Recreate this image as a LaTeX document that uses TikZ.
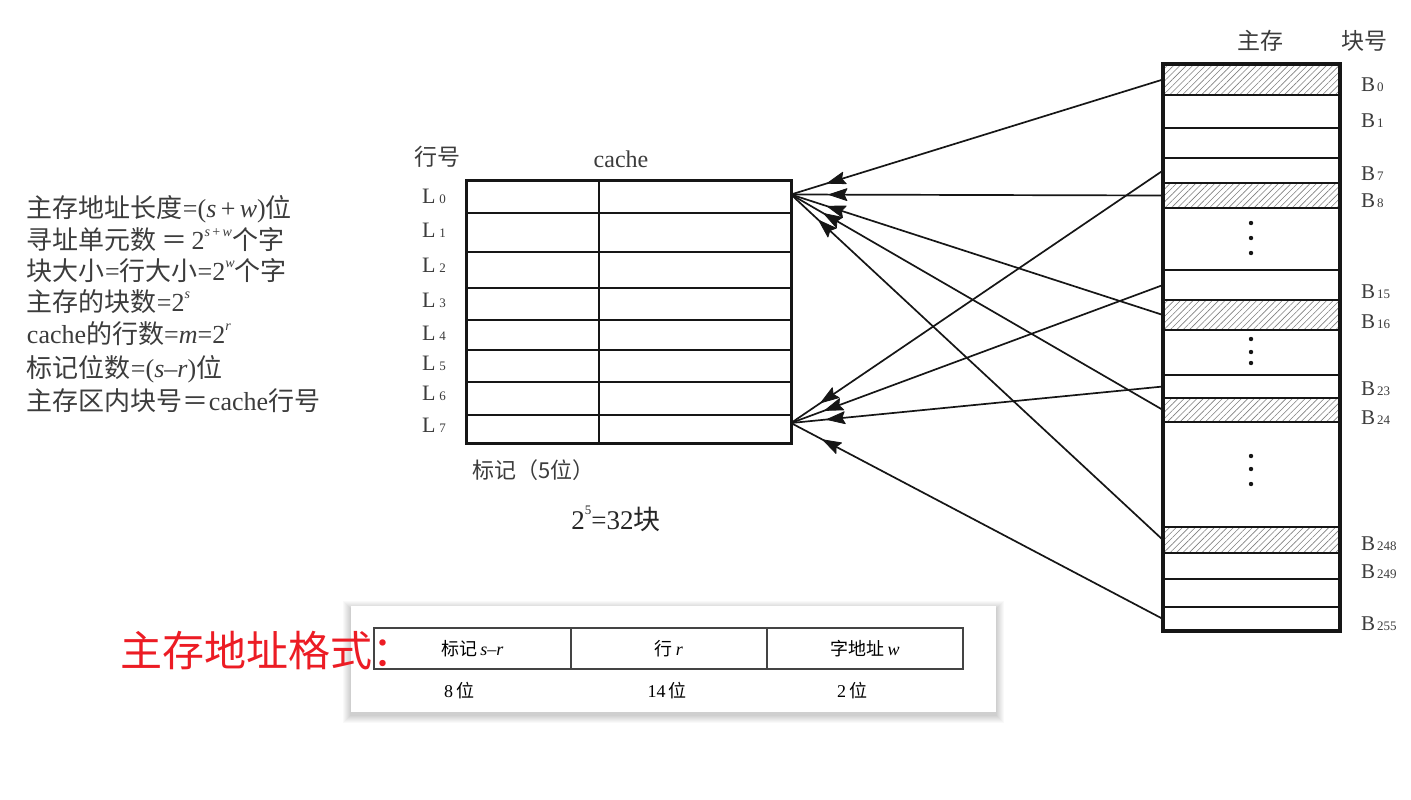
\documentclass[tikz,border=0pt]{standalone}
\usepackage{fontspec}
\setmainfont{Liberation Serif}
\newfontfamily\cjk{Noto Sans CJK SC}
\usetikzlibrary{arrows.meta,patterns.meta,calc}
\newcommand\zhs[1]{{\cjk #1}}
\newcommand\supx[1]{\raisebox{0.5em}{\fontsize{14}{14}\selectfont #1}}
\newcommand\blab[1]{B\hspace{2pt}{\fontsize{13}{13}\selectfont #1}}
\newcommand\llab[1]{L\hspace{4pt}{\fontsize{13}{13}\selectfont #1}}
\definecolor{ink}{HTML}{161616}
\definecolor{txtc}{HTML}{3C3C3C}
\definecolor{cellc}{HTML}{444444}
\definecolor{redt}{HTML}{EC1C24}
\begin{document}
\begin{tikzpicture}[x=1pt,y=-1pt,
  txt/.style={text=txtc, inner sep=0pt, outer sep=0pt},
  crow/.style={draw=ink, line width=2.2pt, minimum width=325pt, anchor=north west, inner sep=0pt, outer sep=0pt},
  mblk/.style={draw=ink, line width=2.4pt, minimum width=177pt, anchor=north west, inner sep=0pt, outer sep=0pt},
  hatch/.style={pattern={Lines[angle=45,distance=4.5pt,line width=0.6pt]}, pattern color=gray},
  conn/.style={draw=ink, line width=1.7pt},
  headfill/.style={fill=ink, draw=ink, line width=0.8pt, line join=round},
  fcell/.style={draw=cellc, line width=1.3pt, minimum height=41pt, inner sep=0pt, outer sep=0pt, anchor=north west, text=black, font=\fontsize{18}{18}\selectfont},
  leftline/.style={txt, anchor=base west, font=\fontsize{26}{26}\selectfont}
]
\useasboundingbox (0,0) rectangle (1411,800);
\fill[white] (0,0) rectangle (1411,800);

% ---------- left text ----------
\node[leftline] (t1) at (27,217) {\zhs{主存地址长度}=(\textit{s}\,+\,\textit{w})\zhs{位}};
\node[leftline] (t2) at (27,249) {\zhs{寻址单元数}\,\zhs{＝}\,2\supx{\textit{s}\,+\,\textit{w}}\zhs{个字}};
\node[leftline] (t3) at (27,280) {\zhs{块大小}=\zhs{行大小}=2\supx{\textit{w}}\zhs{个字}};
\node[leftline] (t4) at (27,311) {\zhs{主存的块数}=2\supx{\textit{s}}};
\node[leftline] (t5) at (27,343) {cache\zhs{的行数}=\textit{m}=2\supx{\textit{r}}};
\node[leftline] (t6) at (27,377) {\zhs{标记位数}=(\textit{s}–\textit{r})\zhs{位}};
\node[leftline] (t7) at (27,410) {\zhs{主存区内块号＝}cache\zhs{行号}};

% ---------- cache ----------
\node[txt, anchor=base, font=\cjk\fontsize{23}{23}\selectfont] (hh) at (437,165) {行号};
\node[txt, anchor=base, font=\fontsize{24}{24}\selectfont] (hc) at (621,167) {cache};
\foreach \i/\ya/\hh in {0/180/33,1/213/39,2/252/36,3/288/32,4/320/30,5/350/32,6/382/33,7/415/28}
  \node[crow, minimum height=\hh pt] (r\i) at (466,\ya) {};
\draw[ink, line width=2.4pt] (599,180) -- (599,443);
\draw[ink, line width=3pt] (r0.north west) rectangle (r7.south east);
\foreach \i/\y in {0/203,1/237,2/272,3/307,4/340,5/370,6/400,7/432}
  \node[txt, anchor=base west, font=\fontsize{22}{22}\selectfont] (l\i) at (422,\y) {\llab{\i}};
\node[txt, anchor=base west, font=\cjk\fontsize{22}{22}\selectfont] (tag) at (472,478) {标记（5位）};
\node[txt, anchor=base, text=black!85, font=\fontsize{27}{27}\selectfont] (n32) at (616,529) {2\raisebox{0.55em}{\fontsize{13}{13}\selectfont 5}=32\zhs{块}};
\coordinate (p0) at ([yshift=2pt]r0.east);
\coordinate (p7) at ([yshift=6pt]r7.east);

% ---------- main memory ----------
\node[txt, anchor=base, font=\cjk\fontsize{23}{23}\selectfont] (hm) at (1260,50) {主存};
\node[txt, anchor=base, font=\cjk\fontsize{23}{23}\selectfont] (hb) at (1364,50) {块号};
\foreach \nm/\ya/\yb in {B0/64/95, B8/183/208, B16/300/330, B24/398/422, B248/527/553}
  \node[mblk, hatch, minimum height={(\yb-\ya)*1pt}] (\nm) at (1163,\ya) {};
\foreach \nm/\ya/\yb in {B1/95/128, X1/128/158, B7/158/183, D1/208/270, B15/270/300, D2/330/375, B23/375/398, D3/422/527, B249/553/579, X2/579/607, B255/607/631}
  \node[mblk, minimum height={(\yb-\ya)*1pt}] (\nm) at (1163,\ya) {};
\draw[ink, line width=3.4pt] (B0.north west) rectangle (B255.south east);
\foreach \y in {223,238,253,339,352,363,456,469,484}
  \fill[ink] (1251,\y) circle (2.2pt);
\foreach \s/\y in {0/92,1/127,7/180,8/207,15/298,16/328,23/395,24/424,248/550,249/578,255/630}
  \node[txt, anchor=base west, font=\fontsize{21}{21}\selectfont] (lb\s) at (1361,\y) {\blab{\s}};

% ---------- connectors with arrow heads near the cache ----------
\foreach \s in {B0,B8,B16,B24,B248}{
  \draw[conn] (\s.west) -- (p0);
  \coordinate (tip) at ($(p0)!38pt!(\s.west)$);
  \coordinate (bk) at ($(p0)!56pt!(\s.west)$);
  \coordinate (nk) at ($(p0)!53pt!(\s.west)$);
  \filldraw[headfill] (tip) -- ($(bk)!6pt!90:(tip)$) -- (nk) -- ($(bk)!6pt!-90:(tip)$) -- cycle;
}
\foreach \s in {B7,B15,B23,B255}{
  \draw[conn] (\s.west) -- (p7);
  \coordinate (tip) at ($(p7)!36pt!(\s.west)$);
  \coordinate (bk) at ($(p7)!54pt!(\s.west)$);
  \coordinate (nk) at ($(p7)!51pt!(\s.west)$);
  \filldraw[headfill] (tip) -- ($(bk)!6pt!90:(tip)$) -- (nk) -- ($(bk)!6pt!-90:(tip)$) -- cycle;
}

% ---------- address format ----------
\foreach \i in {1,...,8}
  \fill[black, opacity=0.022] (351-\i,606-\i+3) rectangle (996+\i,712+\i+3);
\fill[white] (351,606) rectangle (996,712);
\node[fcell, minimum width=197pt] (f1) at (374,628) {\zhs{标记}\,\textit{s}–\textit{r}};
\node[fcell, minimum width=196pt] (f2) at (571,628) {\zhs{行}\,\textit{r}};
\node[fcell, minimum width=196pt] (f3) at (767,628) {\zhs{字地址}\,\textit{w}};
\node[anchor=base, inner sep=0pt, font=\fontsize{18}{18}\selectfont] (b1) at (459,697) {8\,\zhs{位}};
\node[anchor=base, inner sep=0pt, font=\fontsize{18}{18}\selectfont] (b2) at (667,697) {14\,\zhs{位}};
\node[anchor=base, inner sep=0pt, font=\fontsize{18}{18}\selectfont] (b3) at (852,697) {2\,\zhs{位}};
\node[anchor=base west, inner sep=0pt, text=redt, font=\cjk\fontsize{42}{42}\selectfont] (title) at (120,666) {主存地址格式：};
\end{tikzpicture}
\end{document}
